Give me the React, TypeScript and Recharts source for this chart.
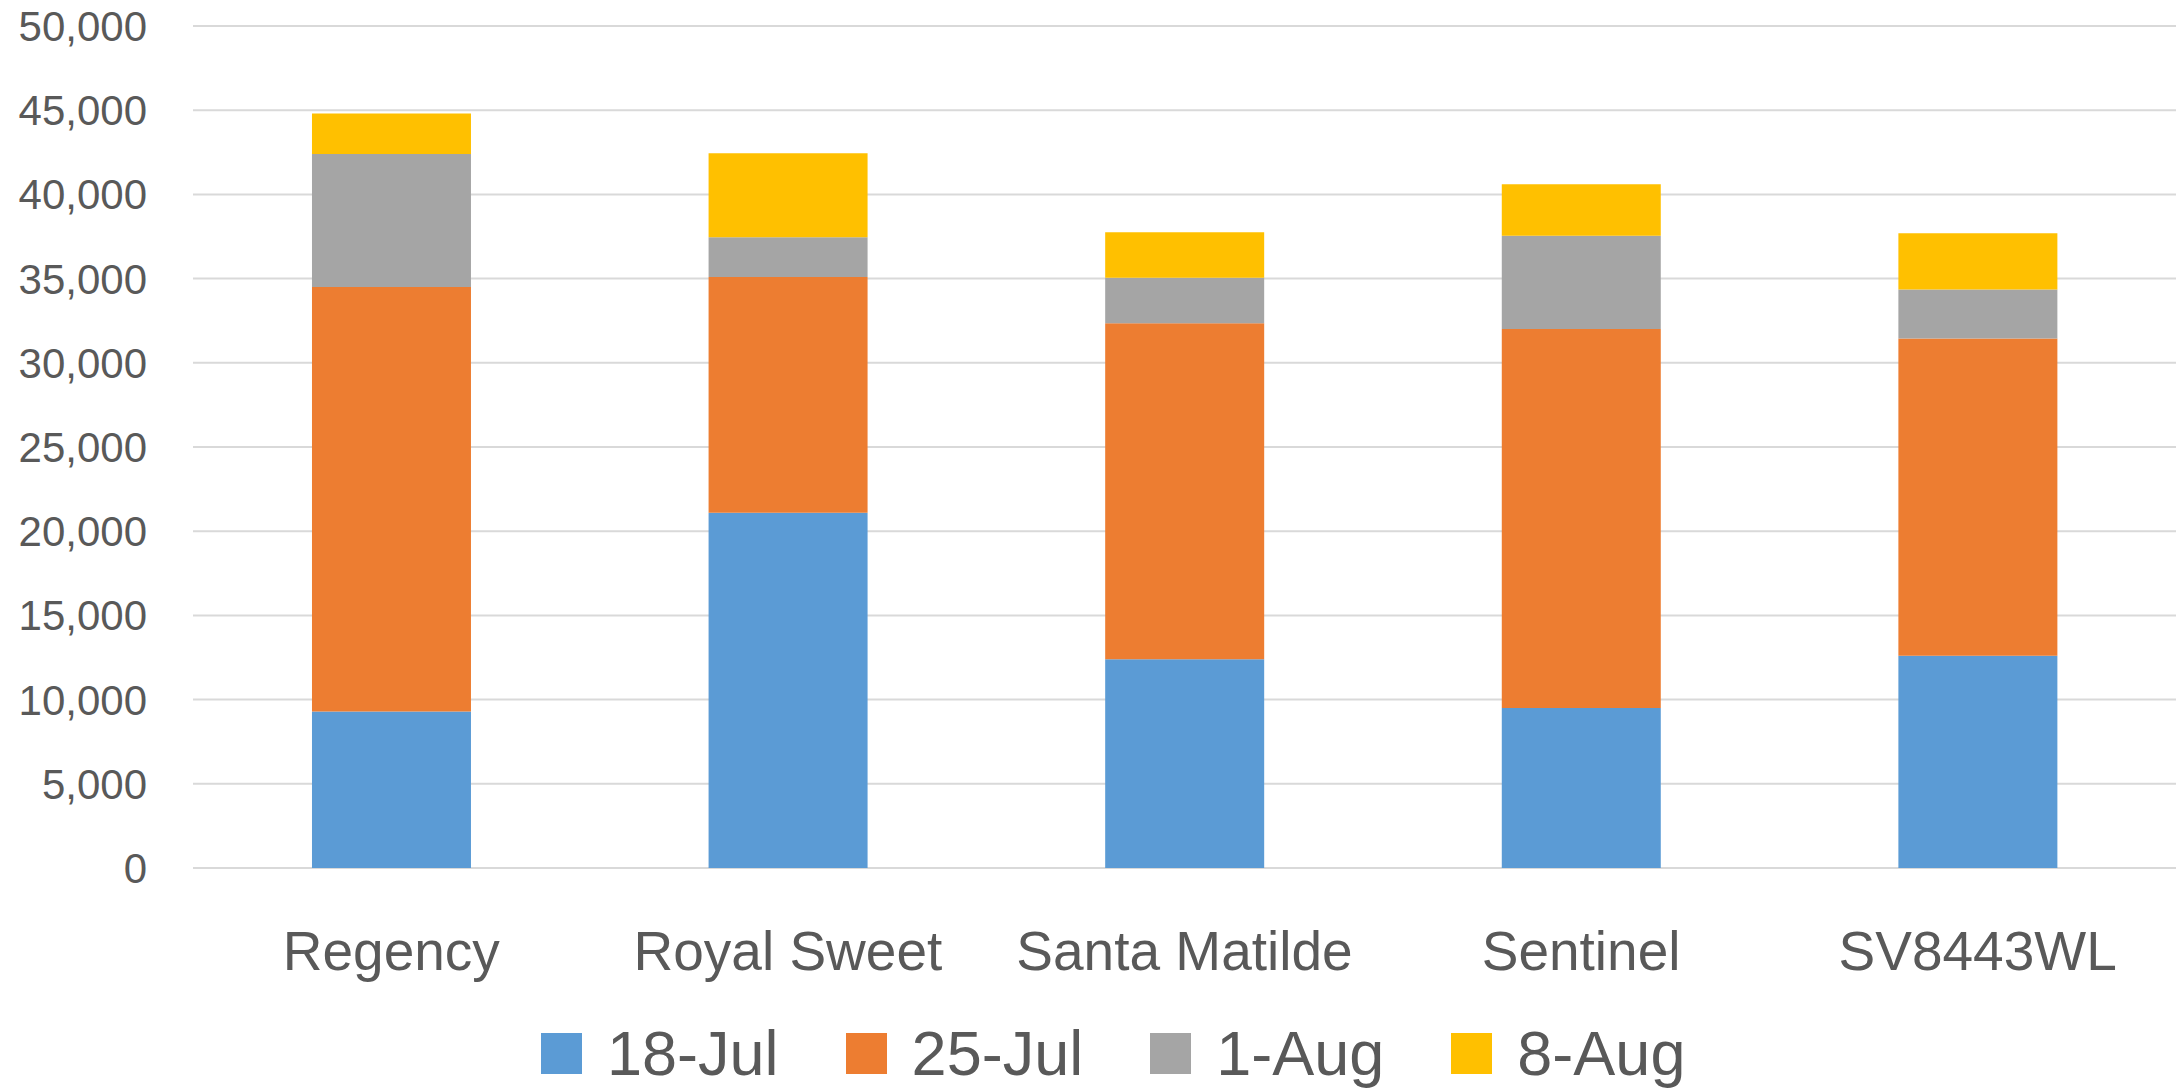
import React from 'react';
import { BarChart, Bar, XAxis, YAxis, CartesianGrid } from 'recharts';

const varieties = ['Regency', 'Royal Sweet', 'Santa Matilde', 'Sentinel', 'SV8443WL'];
const jul18 = [9300, 21100, 12400, 9500, 12600];
const jul25 = [25200, 14000, 19950, 22500, 18850];
const aug1 = [7900, 2350, 2700, 5550, 2900];
const aug8 = [2400, 5000, 2700, 3050, 3350];
const yTicks = [0, 5000, 10000, 15000, 20000, 25000, 30000, 35000, 40000, 45000, 50000];

const series = [
  { key: 'jul18', name: '18-Jul', color: '#5B9BD5', values: jul18 },
  { key: 'jul25', name: '25-Jul', color: '#ED7D31', values: jul25 },
  { key: 'aug1', name: '1-Aug', color: '#A5A5A5', values: aug1 },
  { key: 'aug8', name: '8-Aug', color: '#FFC000', values: aug8 },
];

const data = varieties.map((name, i) => {
  const row: Record<string, string | number> = { name };
  series.forEach((s) => {
    row[s.key] = s.values[i];
  });
  return row;
});

const font = '"Liberation Sans", Arial, sans-serif';
const textColor = '#595959';

const App: React.FC = () => (
  <div style={{ position: 'absolute', left: 0, top: 0, width: 2181, height: 1091, background: '#fff', fontFamily: font, overflow: 'hidden' }}>
    <BarChart
      width={2181}
      height={1091}
      data={data}
      margin={{ top: 26, right: 5, left: 0, bottom: 0 }}
      barCategoryGap="30%"
    >
      <CartesianGrid vertical={false} stroke="#D9D9D9" strokeWidth={2} />
      <XAxis
        dataKey="name"
        axisLine={false}
        tickLine={false}
        tickSize={0}
        tickMargin={63}
        height={223}
        interval={0}
        tick={{ fill: textColor, fontSize: 55, fontFamily: font }}
      />
      <YAxis
        width={193}
        domain={[0, 50000]}
        ticks={yTicks}
        interval={0}
        axisLine={false}
        tickLine={false}
        tickSize={0}
        tickMargin={46}
        tickFormatter={(v: number) => v.toLocaleString('en-US')}
        tick={{ fill: textColor, fontSize: 42, fontFamily: font }}
      />
      {series.map((s) => (
        <Bar key={s.key} dataKey={s.key} name={s.name} stackId="a" fill={s.color} isAnimationActive={false} />
      ))}
    </BarChart>
    {/* legend laid out like the Excel one: fixed left edge, square + label */}
    <div
      style={{
        position: 'absolute',
        left: 541,
        top: 1021,
        display: 'flex',
        alignItems: 'center',
        gap: 67,
      }}
    >
      {series.map((s) => (
        <div key={s.key} style={{ display: 'flex', alignItems: 'center', gap: 25 }}>
          <div style={{ width: 41, height: 41, background: s.color }} />
          <span style={{ fontSize: 63, color: textColor, lineHeight: '64px', whiteSpace: 'nowrap' }}>{s.name}</span>
        </div>
      ))}
    </div>
  </div>
);

export default App;
